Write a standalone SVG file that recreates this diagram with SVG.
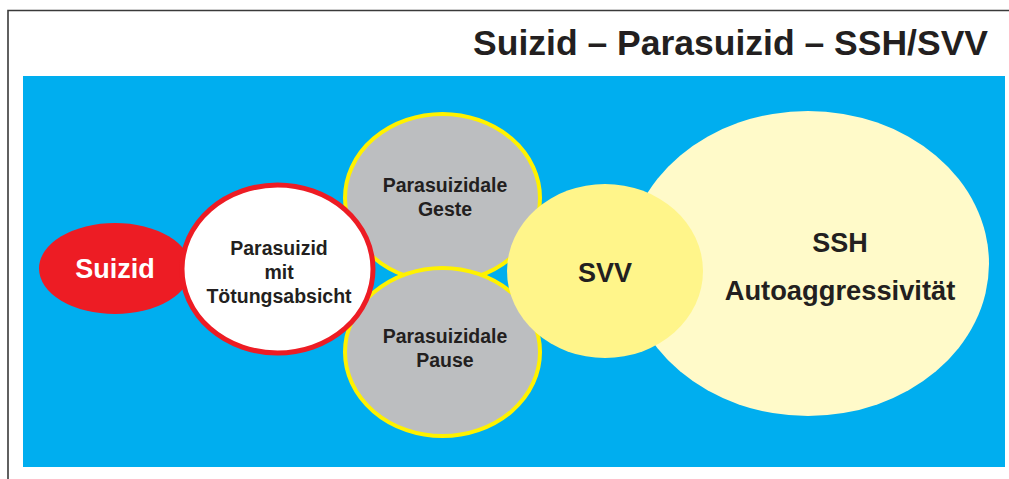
<svg xmlns="http://www.w3.org/2000/svg" width="1009" height="479" viewBox="0 0 1009 479">
<style>
text{font-family:"Liberation Sans",Arial,sans-serif;font-weight:bold;fill:#231f20;text-anchor:middle}
.sm{font-size:19.5px}
.lg{font-size:27px}
.gray{fill:#bcbec0;stroke:#fff200;stroke-width:4}
</style>
<rect width="1009" height="479" fill="#ffffff"/>
<g id="frame" fill="none" stroke="#3a3a3a" stroke-width="1.6">
<path d="M8 479 V10.5 H1009"/>
</g>
<text id="title" x="988" y="55" style="font-size:35.5px;text-anchor:end">Suizid – Parasuizid – SSH/SVV</text>
<rect id="background" x="23" y="76" width="982" height="391" fill="#00aeef"/>
<g id="connectors"></g>
<g id="ssh">
<ellipse cx="808" cy="263.5" rx="181" ry="152.5" fill="#fffac9"/>
<text class="lg" x="840" y="252">SSH</text>
<text x="840" y="300" style="font-size:27.3px">Autoaggressivität</text>
</g>
<g id="geste">
<ellipse class="gray" cx="442.5" cy="198" rx="97.5" ry="84"/>
</g>
<g id="pause">
<ellipse class="gray" cx="442.5" cy="352" rx="97.5" ry="84"/>
<text class="sm" x="445" y="343">Parasuizidale</text>
<text class="sm" x="445" y="367">Pause</text>
</g>
<g id="geste-label">
<text class="sm" x="445" y="192">Parasuizidale</text>
<text class="sm" x="445" y="216">Geste</text>
</g>
<g id="svv">
<ellipse cx="605" cy="271" rx="98" ry="87" fill="#fff58a"/>
<text class="lg" x="605" y="282">SVV</text>
</g>
<g id="suizid">
<ellipse cx="115" cy="268.5" rx="76" ry="45.5" fill="#ed1c24"/>
<text x="115" y="278" style="font-size:27px;fill:#ffffff">Suizid</text>
</g>
<g id="parasuizid">
<ellipse cx="277.5" cy="269" rx="95.5" ry="84" fill="#ffffff" stroke="#ed1c24" stroke-width="5"/>
<text class="sm" x="279" y="255">Parasuizid</text>
<text class="sm" x="279" y="279">mit</text>
<text class="sm" x="279" y="303">Tötungsabsicht</text>
</g>
</svg>
